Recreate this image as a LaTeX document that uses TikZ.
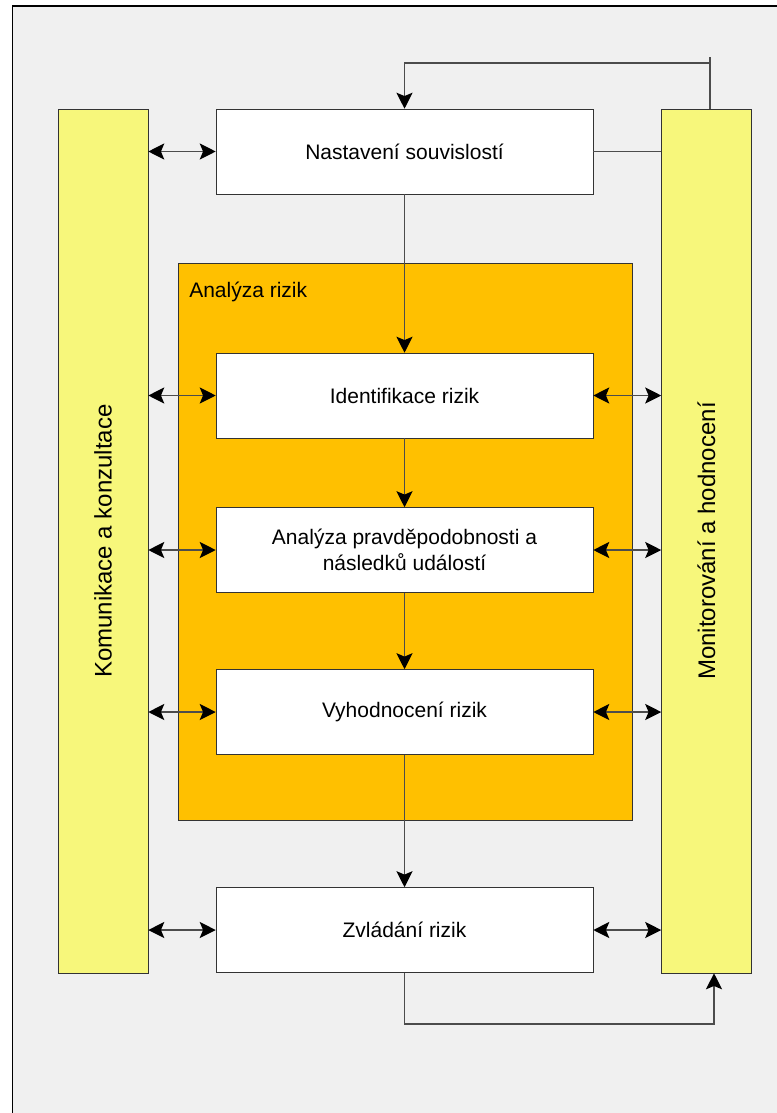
\documentclass[tikz,border=0pt]{standalone}
\usepackage{fontspec}
\setmainfont{Liberation Sans}
\usetikzlibrary{arrows.meta}
\definecolor{zluta}{HTML}{F7F77B}
\definecolor{oranzova}{HTML}{FFC000}
\definecolor{pozadi}{HTML}{F0F0F0}

\begin{document}
\begin{tikzpicture}[x=0.75pt,y=-0.75pt,font=\fontsize{15.75}{19.5}\selectfont]
    \tikzstyle{krok}=[rectangle,draw=black!80,fill=white,align=center,minimum width=282.75pt,minimum height=63.75pt]
    \tikzstyle{pruh}=[rectangle,draw=black!80,fill=zluta,inner sep=0pt,minimum width=67.5pt,minimum height=648pt,font=\fontsize{18}{20}\selectfont]
    \tikzstyle{spoj}=[draw=black!70,line width=1.2pt]
    \tikzstyle{sipka}=[spoj,-{Stealth[length=12pt,width=12pt,inset=2.5pt,color=black]}]
    \tikzstyle{obe}=[spoj,{Stealth[length=12pt,width=12pt,inset=2.5pt,color=black]}-{Stealth[length=12pt,width=12pt,inset=2.5pt,color=black]}]
    \useasboundingbox (0,0) rectangle (777,1113);
    \clip (0,0) rectangle (777,1113);
    \fill[white] (0,0) rectangle (777,1113);
    \draw[fill=pozadi,line width=1.1pt] (12.5,6) rectangle (800,1140);
    % analyza rizik
    \node[draw=black!80,fill=oranzova,minimum width=340.5pt,minimum height=417.75pt] (oblast) at (405,541.5) {};
    \node[anchor=base west,inner sep=0pt] (nadpis) at (189,297) {Analýza rizik};
    % bocni pruhy
    \node[pruh] (kom) at (103,541) {\rotatebox{90}{Komunikace a konzultace}};
    \node[pruh] (mon) at (706.5,541) {\rotatebox{90}{Monitorování a hodnocení}};
    % kroky procesu
    \node[krok] (nast) at (404.5,151.5) {Nastavení souvislostí};
    \node[krok] (ident) at (404.5,395.5) {Identifikace rizik};
    \node[krok] (anal) at (404.5,550) {Analýza pravděpodobnosti a\\ následků událostí};
    \node[krok] (vyh) at (404.5,712) {Vyhodnocení rizik};
    \node[krok] (zvl) at (404.5,930) {Zvládání rizik};
    % tok dolu
    \draw[sipka] (nast) -- (ident);
    \draw[sipka] (ident) -- (anal);
    \draw[sipka] (anal) -- (vyh);
    \draw[sipka] (vyh) -- (zvl);
    % komunikace
    \draw[obe] (kom.east |- nast) -- (nast.west);
    \draw[obe] (kom.east |- ident) -- (ident.west);
    \draw[obe] (kom.east |- anal) -- (anal.west);
    \draw[obe] (kom.east |- vyh) -- (vyh.west);
    \draw[obe] (kom.east |- zvl) -- (zvl.west);
    % monitorovani
    \draw[spoj] (nast.east) -- (mon.west |- nast);
    \draw[obe] (ident.east) -- (mon.west |- ident);
    \draw[obe] (anal.east) -- (mon.west |- anal);
    \draw[obe] (vyh.east) -- (mon.west |- vyh);
    \draw[obe] (zvl.east) -- (mon.west |- zvl);
    % zpetne vazby
    \coordinate (horni) at (710,63);
    \coordinate (dolni) at (714,1024);
    \draw[spoj] (horni |- mon.north) -- (710,57);
    \draw[sipka] (horni) -- (horni -| nast) -- (nast.north);
    \draw[sipka] (zvl.south) |- (dolni) -- (dolni |- mon.south);
\end{tikzpicture}
\end{document}
